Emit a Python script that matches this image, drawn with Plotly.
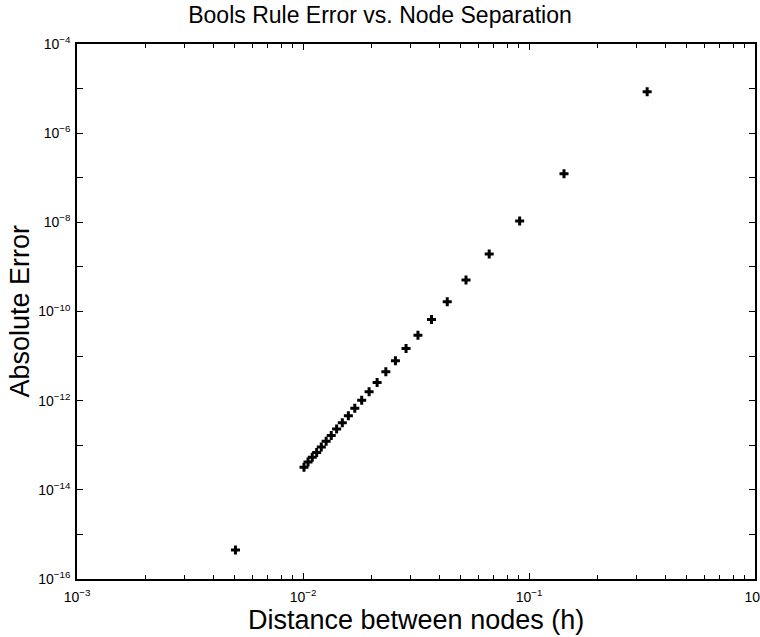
import plotly.graph_objects as go

# Node separation h and absolute error
h_values = [1/3, 1/7, 1/11, 1/15, 1/19, 1/23, 1/27, 1/31, 1/35, 1/39, 1/43, 1/47, 1/51,
            1/55, 1/59, 1/63, 1/67, 1/71, 1/75, 1/79, 1/83, 1/87, 1/91, 1/95, 1/99, 1/199]
abs_error = [8.5e-6, 1.23e-7, 1.07e-8, 1.95e-9, 5.1e-10, 1.66e-10, 6.6e-11, 2.95e-11,
             1.48e-11, 7.9e-12, 4.47e-12, 2.55e-12, 1.58e-12, 1.02e-12, 6.8e-13, 4.6e-13,
             3.2e-13, 2.3e-13, 1.66e-13, 1.23e-13, 9.1e-14, 6.9e-14, 5.4e-14, 4.2e-14,
             3.2e-14, 4.5e-16]

x_tick_vals = [1e-3, 1e-2, 1e-1, 1e0]
x_tick_text = ["10<sup>−3</sup>", "10<sup>−2</sup>", "10<sup>−1</sup>", "10<sup>0</sup>"]
x_minor_vals = [m * 10.0 ** e for e in (-3, -2, -1) for m in range(2, 10)]
y_tick_vals = [10.0 ** e for e in range(-16, -3)]
y_tick_text = [("10<sup>%d</sup>" % e).replace("-", "−") if e % 2 == 0 else "" for e in range(-16, -3)]

FONT = "Liberation Sans, Arial, Helvetica, sans-serif"

fig = go.Figure()
fig.add_trace(go.Scatter(
    x=h_values, y=abs_error, mode="markers",
    marker=dict(symbol="cross", size=7.5, color="black", line=dict(width=0)),
    showlegend=False,
))

axis_common = dict(
    type="log", showgrid=False, zeroline=False,
    showline=True, linecolor="black", linewidth=1.5, mirror="allticks",
    ticks="inside", ticklen=6, tickwidth=1, tickcolor="black",
    tickfont=dict(family=FONT, size=14, color="black"),
    tickmode="array", automargin=False, ticklabeloverflow="allow",
)

fig.update_layout(
    width=760, height=637,
    margin=dict(l=77, r=5, t=44, b=58),
    paper_bgcolor="white", plot_bgcolor="white",
    font=dict(family=FONT, color="black"),
    title=dict(text="Bools Rule Error vs. Node Separation", x=0.5, xanchor="center",
               xref="container", y=1 - 15/637, yref="container", yanchor="middle",
               font=dict(family=FONT, size=23, color="black")),
    xaxis=dict(axis_common, range=[-3, 0], tickvals=x_tick_vals, ticktext=x_tick_text,
               ticklabelstandoff=4,
               minor=dict(tickmode="array", tickvals=x_minor_vals, ticks="inside",
                          ticklen=4, tickcolor="black", tickwidth=1, showgrid=False)),
    yaxis=dict(axis_common, range=[-16, -4], tickvals=y_tick_vals, ticktext=y_tick_text,
               ticklabelstandoff=2),
    annotations=[
        dict(text="Distance between nodes (h)", xref="paper", yref="paper",
             x=0.5, y=-41/535, xanchor="center", yanchor="middle", showarrow=False,
             font=dict(family=FONT, size=27, color="black")),
        dict(text="Absolute Error", xref="paper", yref="paper",
             x=-58/678, y=0.5, xanchor="center", yanchor="middle", textangle=-90,
             showarrow=False, font=dict(family=FONT, size=27, color="black")),
    ],
)

fig.write_html("out.html", config={"displayModeBar": False},
               post_script="document.body.style.margin='0';")
